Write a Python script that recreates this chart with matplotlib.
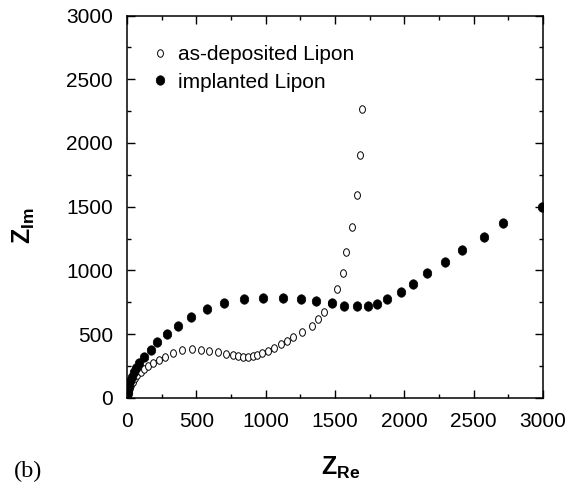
import matplotlib
matplotlib.use('Agg')
import matplotlib.pyplot as plt
import numpy as np
from matplotlib.path import Path
from matplotlib.ticker import MultipleLocator

plt.rcParams['font.family'] = ['Liberation Sans', 'DejaVu Sans']
plt.rcParams['mathtext.fontset'] = 'custom'
plt.rcParams['mathtext.rm'] = 'Liberation Sans'
plt.rcParams['mathtext.bf'] = 'Liberation Sans:bold'

# as-deposited Lipon (open circles)
dep_re = [5, 9, 14, 20, 28, 40, 55, 74, 99, 125, 155, 190, 228, 272, 334, 399,
          467, 534, 594, 659, 714, 762, 803, 839, 875, 907, 935, 976, 1019, 1063,
          1108, 1152, 1199, 1260, 1332, 1380, 1423, 1469, 1516, 1555, 1579, 1619,
          1661, 1679, 1692]
dep_im = [20, 35, 52, 75, 100, 128, 155, 180, 207, 230, 252, 273, 298, 325, 355, 377,
          387, 380, 371, 361, 345, 334, 326, 321, 321, 326, 334, 353, 371, 392,
          421, 450, 476, 520, 564, 617, 677, 747, 855, 978, 1147, 1339,
          1593, 1907, 2265]

# implanted Lipon (filled circles)
imp_re = [2, 4, 8, 14, 22, 33, 47, 65, 88, 125, 171, 219, 286, 370, 462, 575, 702,
          844, 983, 1127, 1258, 1363, 1476, 1565, 1656, 1735, 1805, 1877, 1973,
          2064, 2165, 2293, 2413, 2577, 2708, 2990]
imp_im = [15, 40, 70, 100, 130, 165, 200, 235, 272, 325, 379, 437, 503, 568, 634, 695,
          745, 774, 787, 787, 780, 761, 742, 721, 721, 724, 735, 774, 829,
          894, 978, 1069, 1158, 1266, 1370, 1500]

ticks = [0, 500, 1000, 1500, 2000, 2500, 3000]


def ellipse_marker(aspect):
    t = np.linspace(0, 2 * np.pi, 60)
    verts = np.column_stack([aspect * np.cos(t), np.sin(t)])
    return Path(verts, closed=True)


open_mk = ellipse_marker(0.78)
fill_mk = ellipse_marker(0.9)

fig = plt.figure(figsize=(5.68, 4.86), dpi=100)
ax = fig.add_axes([0.2236, 0.1811, 0.7324, 0.787])

ax.plot(dep_re, dep_im, linestyle='none', marker=open_mk, markersize=5.4,
        markerfacecolor='white', markeredgecolor='black', markeredgewidth=0.7,
        label='as-deposited Lipon')
ax.plot(imp_re, imp_im, linestyle='none', marker=fill_mk, markersize=6.8,
        markerfacecolor='black', markeredgecolor='black', markeredgewidth=0.5,
        label='implanted Lipon')

ax.set_xlim(0, 3000)
ax.set_ylim(0, 3000)
ax.set_xticks(ticks)
ax.set_yticks(ticks)
ax.xaxis.set_minor_locator(MultipleLocator(250))
ax.yaxis.set_minor_locator(MultipleLocator(250))
ax.tick_params(which='both', direction='in', top=True, right=True,
               labelsize=15, width=1)
ax.tick_params(which='major', length=6, pad=10)
ax.tick_params(which='minor', length=3)
for s in ax.spines.values():
    s.set_linewidth(1.1)

ax.legend(loc='upper left', bbox_to_anchor=(0.055, 0.922), frameon=False,
          handlelength=1.0, handletextpad=0.35, labelspacing=0.4,
          borderpad=0, borderaxespad=0, fontsize=15, numpoints=1)

fig.text(0.042, 0.535, r'$\mathbf{Z_{Im}}$', rotation=90, fontsize=18,
         ha='center', va='center')
fig.text(0.599, 0.038, r'$\mathbf{Z_{Re}}$', fontsize=18, ha='center', va='center')
fig.text(0.025, 0.029, '(b)', family='Liberation Serif', fontsize=17.5,
         ha='left', va='center')

fig.savefig('out.png', dpi=100)
